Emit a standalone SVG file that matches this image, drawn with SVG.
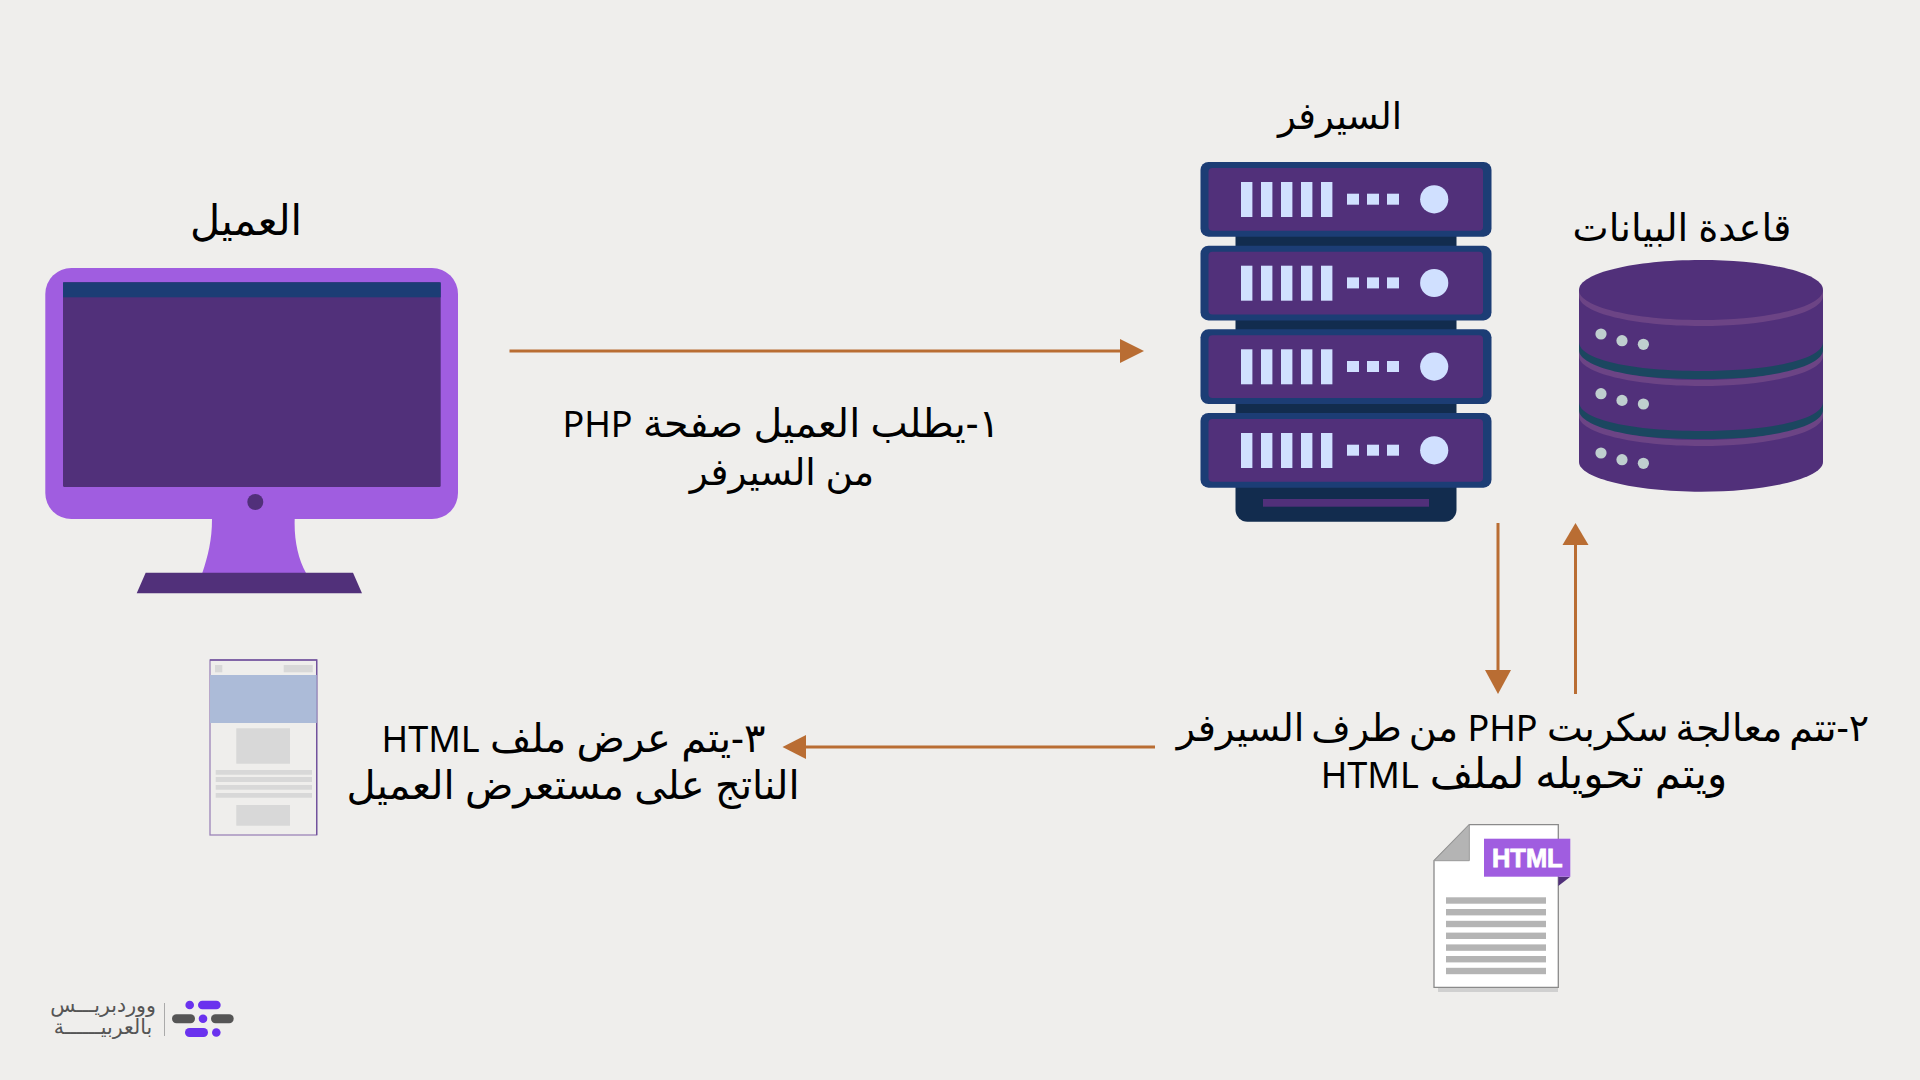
<svg xmlns="http://www.w3.org/2000/svg" width="1920" height="1080" viewBox="0 0 1920 1080">
<style>
text{font-family:"Noto Sans","DejaVu Sans",sans-serif;fill:#000;direction:rtl;text-anchor:middle}
.t{font-size:36px}
.ar{font-size:40px}
.a{stroke:#b96d33;stroke-width:3;fill:none}
.h{fill:#b96d33}
.p{fill:#51307a}
.n{fill:#1c3d75}
.d{fill:#122c4e}
.l{fill:#d0e0ff}
.m{fill:#a05de0}
.dot{fill:#bfcfcf}
.band{fill:#6c4485}
.teal{fill:#1b4760}
.g{fill:#d8d8d8}
.gl{fill:#b4b4b4}
.lg{fill:#6a32ee}
.dg{fill:#555}
</style>
<defs>
<g id="unit">
<rect x="1200.5" y="162" width="291" height="74.7" rx="8" class="n"/>
<rect x="1208.5" y="168" width="274.5" height="62.7" rx="4" class="p"/>
<rect x="1241" y="182" width="11.4" height="35" class="l"/>
<rect x="1261" y="182" width="11.4" height="35" class="l"/>
<rect x="1281" y="182" width="11.4" height="35" class="l"/>
<rect x="1301" y="182" width="11.4" height="35" class="l"/>
<rect x="1321" y="182" width="11.4" height="35" class="l"/>
<rect x="1347" y="193.7" width="12" height="11" class="l"/>
<rect x="1367" y="193.7" width="12" height="11" class="l"/>
<rect x="1387" y="193.7" width="12" height="11" class="l"/>
<circle cx="1434.2" cy="199.3" r="14.1" class="l"/>
</g>
<g id="dots">
<circle cx="1601" cy="334" r="5.6" class="dot"/>
<circle cx="1622" cy="340.7" r="5.6" class="dot"/>
<circle cx="1643.4" cy="344.3" r="5.6" class="dot"/>
</g>
<path id="rim" d="M1579 290v6c0 17 55 30 122 30s122-13 122-30v-6c0 17-55 30-122 30s-122-13-122-30z" class="band"/>
<path id="teal" d="M1579 342c0 18 55 29 122 29s122-11 122-29v11c0 17-55 26-122 26s-122-9-122-26z" class="teal"/>
</defs>
<rect width="1920" height="1080" fill="#efeeec"/>
<g id="connectors">
<path class="a" d="M509.500 351H1122"/><path class="h" d="M1120 339L1144 351L1120 363z"/>
<path class="a" d="M1498 523V672"/><path class="h" d="M1485 670H1511L1498 694z"/>
<path class="a" d="M1575.500 694V543"/><path class="h" d="M1562.500 545H1588.500L1575.500 523z"/>
<path class="a" d="M1155 747H804"/><path class="h" d="M806 735V759L782.500 747z"/>
</g>
<g id="client">
<rect x="45.300" y="268" width="412.700" height="251" rx="26" class="m"/>
<path class="m" d="M212 519C212 540 208 556 202.300 573H306C298 558 294 540 294.700 519z"/>
<rect x="63" y="282.300" width="377.700" height="204.700" rx="1.500" class="p"/>
<rect x="63" y="282.300" width="377.700" height="15" class="n"/>
<circle cx="255.300" cy="502" r="8" class="p"/>
<path class="p" d="M145.700 572.700H353L362 593.300H136.700z"/>
<text x="246" y="235" style="font-size:41.500px">العميل</text>
</g>
<g id="server">
<path class="d" d="M1235.500 230H1456.500V509.700a12 12 0 0 1-12 12H1247.500a12 12 0 0 1-12-12z"/>
<use href="#unit"/>
<use href="#unit" y="83.700"/>
<use href="#unit" y="167.300"/>
<use href="#unit" y="251"/>
<rect x="1263" y="499" width="166" height="7.700" class="p"/>
<text x="1340" y="129" style="font-size:37px">السيرفر</text>
</g>
<g id="database">
<path class="p" d="M1579 290c0-17 55-30 122-30s122 13 122 30V462c0 16-55 29.700-122 29.700s-122-13.700-122-29.700z"/>
<use href="#teal"/>
<use href="#teal" y="60"/>
<use href="#rim"/>
<use href="#rim" y="60"/>
<use href="#rim" y="120"/>
<use href="#dots"/>
<use href="#dots" y="59.700"/>
<use href="#dots" y="119"/>
<text x="1682" y="241" style="font-size:38.400px">قاعدة البيانات</text>
</g>
<g id="step1">
<text class="t" x="781" y="437"><tspan style="font-size:39.500px">١-يطلب العميل صفحة </tspan>PHP</text>
<text x="782" y="485" style="font-size:37.500px">من السيرفر</text>
</g>
<g id="step2">
<text class="t" x="1523" y="741"><tspan style="font-size:38px;word-spacing:-3px">٢-تتم معالجة سكربت</tspan> PHP <tspan style="font-size:38px;word-spacing:-3px">من طرف السيرفر</tspan></text>
<text class="t" x="1524" y="788"><tspan style="font-size:42px">ويتم تحويله لملف </tspan>HTML</text>
</g>
<g id="step3">
<text class="t" x="573.500" y="752"><tspan class="ar">٣-يتم عرض ملف </tspan>HTML</text>
<text x="573" y="799" style="font-size:40px">الناتج على مستعرض العميل</text>
</g>
<g id="page">
<rect x="210" y="660" width="106.700" height="175" fill="none" stroke="#9b84b8" stroke-width="1.300"/>
<path d="M210 660H316.700V835" fill="none" stroke="#70509c" stroke-width="1.300"/>
<rect x="210" y="675" width="106.700" height="48" fill="#acbbd8"/>
<rect x="215" y="665" width="7.300" height="7.300" class="g"/>
<rect x="283.700" y="665" width="29" height="7.300" class="g"/>
<rect x="236.300" y="728.300" width="53.700" height="35.400" class="g"/>
<rect x="215.700" y="770" width="96.300" height="4.700" class="g"/>
<rect x="215.700" y="777" width="96.300" height="5" class="g"/>
<rect x="215.700" y="785" width="96.300" height="4.700" class="g"/>
<rect x="215.700" y="793" width="96.300" height="4.700" class="g"/>
<rect x="236.300" y="805" width="53.700" height="20.700" class="g"/>
</g>
<g id="html-file">
<path fill="#d0d0d0" d="M1438 985H1558V992H1438z"/>
<path fill="#fff" stroke="#8a8a8a" stroke-width="1.300" d="M1469.300 824.700H1558.300V987.300H1434V860.700z"/>
<path class="gl" stroke="#999" d="M1469.300 824.700V860.700H1434z"/>
<rect x="1446" y="897.300" width="100" height="6.400" class="gl"/>
<rect x="1446" y="909" width="100" height="6.400" class="gl"/>
<rect x="1446" y="920.800" width="100" height="6.400" class="gl"/>
<rect x="1446" y="932.600" width="100" height="6.400" class="gl"/>
<rect x="1446" y="944.400" width="100" height="6.400" class="gl"/>
<rect x="1446" y="956" width="100" height="6.400" class="gl"/>
<rect x="1446" y="967.800" width="100" height="6.400" class="gl"/>
<path class="p" d="M1558.300 876.700H1570.300L1558.300 886z"/>
<rect x="1484" y="838.700" width="86.300" height="38" class="m"/>
<text x="1527.300" y="866.500" style="font-family:'Liberation Sans',sans-serif;font-weight:700;font-size:25.500px;fill:#fff;stroke:#fff;stroke-width:.8;direction:ltr">HTML</text>
</g>
<g id="logo">
<circle cx="189.700" cy="1005" r="4.300" class="lg"/>
<rect x="198" y="1000.700" width="22.700" height="8.600" rx="4.300" class="lg"/>
<rect x="172" y="1014.300" width="23" height="9" rx="4.500" class="dg"/>
<circle cx="203" cy="1018.700" r="4.300" class="lg"/>
<rect x="211" y="1014.300" width="22.700" height="9" rx="4.500" class="dg"/>
<rect x="185" y="1028" width="23" height="9" rx="4.500" class="lg"/>
<circle cx="216.300" cy="1032.500" r="4.300" class="lg"/>
<rect x="164" y="1003" width="1" height="33" fill="#aaa"/>
<text x="103" y="1012" style="font-size:20.500px;fill:#555">ووردبريـــس</text>
<text x="103" y="1034" style="font-size:20.500px;fill:#555">بالعربيــــــة</text>
</g>
</svg>
